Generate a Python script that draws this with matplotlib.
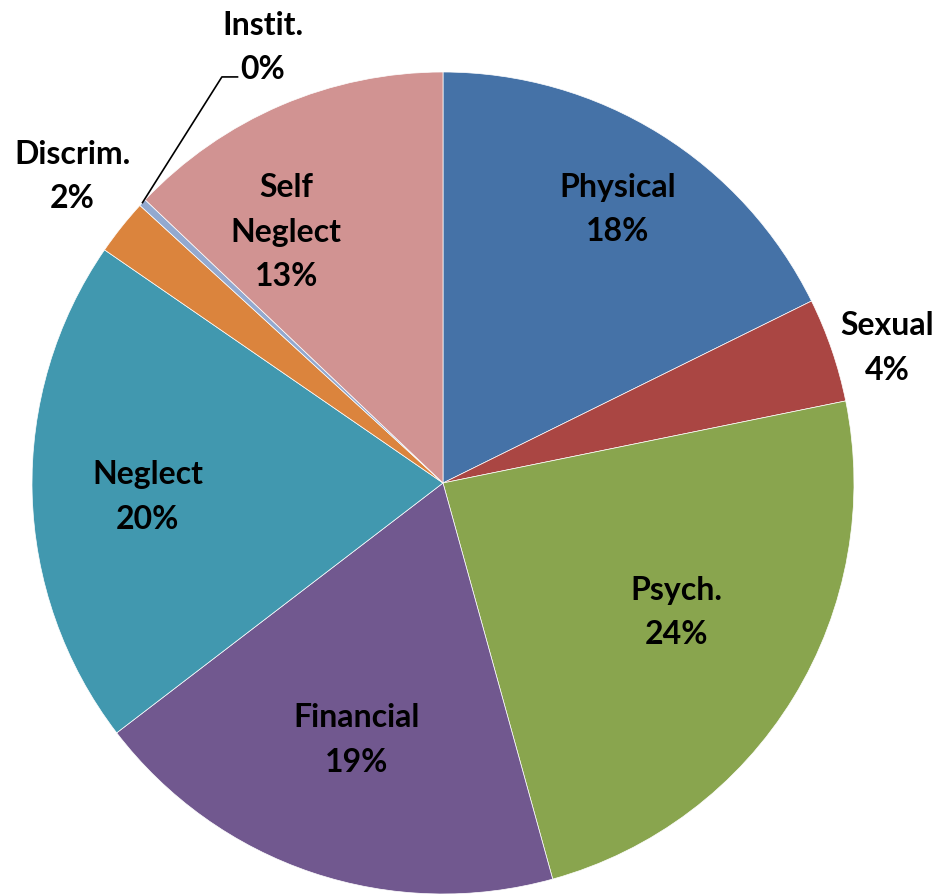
import matplotlib
matplotlib.use('Agg')
import matplotlib.pyplot as plt
import numpy as np

categories = ['Physical', 'Sexual', 'Psych.', 'Financial', 'Neglect', 'Discrim.', 'Instit.', 'Self\nNeglect']
values = [17.7, 4.1, 23.9, 18.9, 20.0, 2.2, 0.3, 12.9]
pct_labels = ['18%', '4%', '24%', '19%', '20%', '2%', '0%', '13%']
colors = ['#4572A7', '#AA4643', '#89A54E', '#71588F', '#4198AF', '#DB843D', '#93A9CF', '#D19392']

# label placement (radius, angle nudge in degrees)
label_r = [0.79, 1.13, 0.65, 0.66, 0.72, 1.17, 1.15, 0.72]
label_da = [-0.7, -2, 2.5, 0, 1.3, -1.1, 0, 8.8]

plt.rcParams['font.family'] = ['Lato', 'DejaVu Sans']

fig = plt.figure(figsize=(9.38, 8.94), dpi=100)
ax = fig.add_axes([0, 0, 1, 1])

wedges, _ = ax.pie(values, colors=colors, startangle=90, counterclock=False,
                   radius=1.0, wedgeprops=dict(linewidth=0.5, edgecolor='white'))

for w, cat, pct, r, da in zip(wedges, categories, pct_labels, label_r, label_da):
    mid = np.deg2rad((w.theta1 + w.theta2) / 2 + da)
    x, y = r * np.cos(mid), r * np.sin(mid)
    if cat == 'Instit.':
        # leader line from slice edge to label
        a = np.deg2rad((w.theta1 + w.theta2) / 2)
        ex, ey = np.cos(a), np.sin(a)
        ax.plot([ex, -0.538, -0.50], [ey, 0.988, 0.988], color='black', lw=1.2)
        x, y = -0.438, 1.06
    ax.text(x, y, cat + '\n' + pct, ha='center', va='center', fontsize=23,
            fontweight='bold', linespacing=1.65, color='black')

ax.set_xlim(-443 / 411, (938 - 443) / 411)
ax.set_ylim(-411 / 411, 483 / 411)
ax.set_aspect('auto')
ax.axis('off')

fig.savefig('out.png', dpi=100)
